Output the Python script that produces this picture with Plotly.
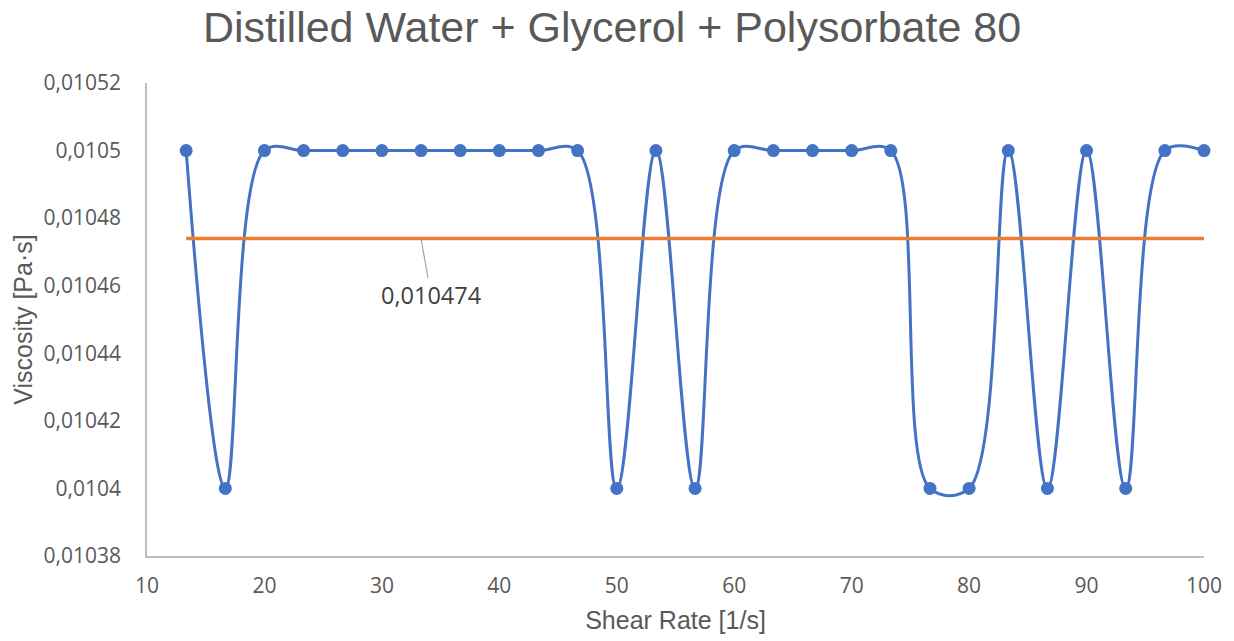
import plotly.graph_objects as go

shear_rate = [13.333, 16.667, 20, 23.333, 26.667, 30, 33.333, 36.667, 40, 43.333,
              46.667, 50, 53.333, 56.667, 60, 63.333, 66.667, 70, 73.333, 76.667,
              80, 83.333, 86.667, 90, 93.333, 96.667, 100]
viscosity = [0.0105, 0.0104, 0.0105, 0.0105, 0.0105, 0.0105, 0.0105, 0.0105, 0.0105, 0.0105,
             0.0105, 0.0104, 0.0105, 0.0104, 0.0105, 0.0105, 0.0105, 0.0105, 0.0105, 0.0104,
             0.0104, 0.0105, 0.0104, 0.0105, 0.0104, 0.0105, 0.0105]
mean_value = 0.010474
mean_label = "0,010474"
label_index = 6

y_ticks = [0.01038, 0.0104, 0.01042, 0.01044, 0.01046, 0.01048, 0.0105, 0.01052]
y_tick_text = ["0,01038", "0,0104", "0,01042", "0,01044", "0,01046", "0,01048", "0,0105", "0,01052"]
x_ticks = [10, 20, 30, 40, 50, 60, 70, 80, 90, 100]

tick_font = dict(family="Open Sans, Noto Sans, sans-serif", size=21, color="#595959")
title_font = dict(family="Liberation Sans, Arial, sans-serif", size=25, color="#595959")

fig = go.Figure()
fig.add_trace(go.Scatter(
    x=shear_rate, y=viscosity, mode="lines+markers",
    line=dict(color="#4472C4", width=3, shape="spline", smoothing=1),
    marker=dict(color="#4472C4", size=13),
    showlegend=False, cliponaxis=False,
))
fig.add_trace(go.Scatter(
    x=shear_rate, y=[mean_value] * len(shear_rate), mode="lines",
    line=dict(color="#ED7D31", width=3.5),
    showlegend=False,
))
fig.add_annotation(
    x=shear_rate[label_index], y=mean_value, text=mean_label,
    showarrow=True, arrowhead=0, arrowwidth=1.2, arrowcolor="#A6A6A6",
    ax=10, ay=57, font=dict(family="Open Sans, Noto Sans, sans-serif", size=23.5, color="#404040"),
)

fig.update_layout(
    width=1234, height=641,
    margin=dict(l=147, r=30, t=83, b=85),
    paper_bgcolor="white", plot_bgcolor="white",
    title=dict(text="Distilled Water + Glycerol + Polysorbate 80",
               font=dict(family="Liberation Sans, Arial, sans-serif",
                         size=43, color="#595959"),
               x=0.496, xanchor="center", y=0.958, yanchor="middle"),
    xaxis=dict(range=[10, 100], tickvals=x_ticks, showgrid=False, zeroline=False,
               showline=True, linecolor="#BFBFBF", linewidth=1.5, ticks="",
               tickfont=tick_font, ticklabelstandoff=10,
               title=dict(text="Shear Rate [1/s]", font=title_font, standoff=14)),
    yaxis=dict(range=[0.01038, 0.01052], tickvals=y_ticks, ticktext=y_tick_text,
               showgrid=False, zeroline=False, showline=True, linecolor="#BFBFBF",
               linewidth=1.5, ticks="", tickfont=tick_font, ticklabelstandoff=20,
               title=dict(text="Viscosity [Pa·s]", font=title_font, standoff=4)),
)

fig.write_html("out.html")
